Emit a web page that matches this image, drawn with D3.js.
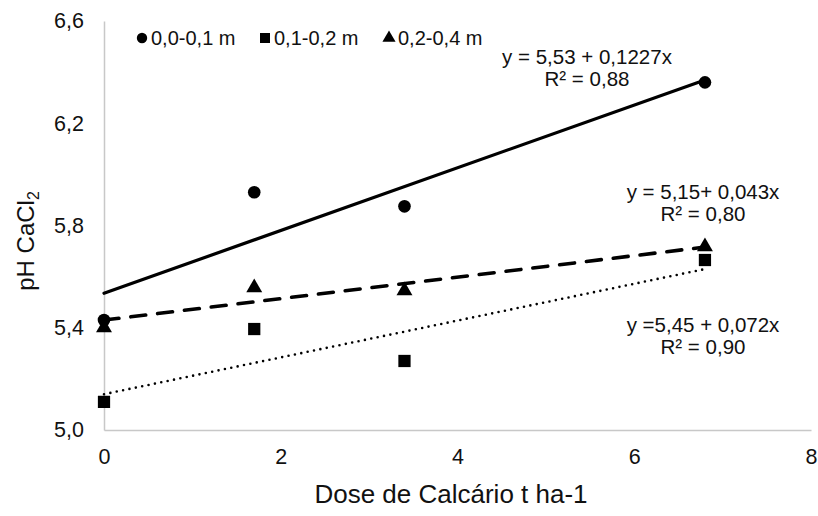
<!DOCTYPE html>
<html>
<head>
<meta charset="utf-8">
<script src="https://cdn.jsdelivr.net/npm/d3@7"></script>
<style>
  html, body { margin: 0; padding: 0; background: #fff; }
  svg { display: block; font-family: "Liberation Sans", Arial, sans-serif; }
</style>
</head>
<body>
<svg id="chart" width="818" height="516"></svg>
<script>
// Lime doses (t ha-1)
const doses = [0, 1.7, 3.4, 6.8];

// pH CaCl2 by soil layer
const seriesNames = ["0,0-0,1 m", "0,1-0,2 m", "0,2-0,4 m"];
const ph0010 = [5.43, 5.93, 5.875, 6.36];
const ph1020 = [5.11, 5.395, 5.27, 5.665];
const ph2040 = [5.40, 5.557, 5.545, 5.717];

// Linear trend lines (intercept, slope) per layer
const trendIntercepts = [5.535, 5.14, 5.43];
const trendSlopes = [0.1227, 0.072, 0.042];

// Equation labels
const eqLines = [
  ["y = 5,53 + 0,1227x", "R² = 0,88"],
  ["y =5,45 + 0,072x", "R² = 0,90"],
  ["y = 5,15+ 0,043x", "R² = 0,80"]
];

const xTicks = [0, 2, 4, 6, 8];
const yTicks = [5.0, 5.4, 5.8, 6.2, 6.6];

const svg = d3.select("#chart");
const x = d3.scaleLinear().domain([0, 8]).range([104, 811]);
const y = d3.scaleLinear().domain([5.0, 6.6]).range([430, 21]);
const fmt = d => d3.format(".1f")(d).replace(".", ",");

// axes: only light grey baseline lines, no tick marks
const gx = svg.append("g").attr("transform", `translate(0,${y(5.0)})`)
  .call(d3.axisBottom(x).tickValues(xTicks).tickSize(0).tickPadding(19).tickFormat(d3.format("d")));
const gy = svg.append("g").attr("transform", `translate(${x(0)},0)`)
  .call(d3.axisLeft(y).tickValues(yTicks).tickSize(0).tickPadding(20).tickFormat(fmt));
[gx, gy].forEach(g => {
  g.select(".domain").attr("stroke", "#c8c8c8").attr("stroke-width", 1.5);
  g.selectAll("text").attr("font-size", 21.5).attr("fill", "#111").attr("font-family", "Liberation Sans, Arial, sans-serif");
});

// axis titles
svg.append("text")
  .attr("x", 451).attr("y", 503)
  .attr("text-anchor", "middle").attr("font-size", 26).attr("fill", "#111")
  .text("Dose de Calcário t ha-1");

const yt = svg.append("text")
  .attr("transform", "translate(34,241) rotate(-90)")
  .attr("text-anchor", "middle").attr("font-size", 24).attr("fill", "#111");
yt.append("tspan").text("pH CaCl");
yt.append("tspan").attr("font-size", 16).attr("dy", 5).text("2");

// trend lines
const dashStyles = [null, "0,6.5", "15,12"];
const widths = [3.2, 2.6, 3.6];
trendIntercepts.forEach((b, i) => {
  const m = trendSlopes[i];
  svg.append("line")
    .attr("x1", x(doses[0])).attr("y1", y(b))
    .attr("x2", x(doses[doses.length - 1])).attr("y2", y(b + m * doses[doses.length - 1]))
    .attr("stroke", "#000").attr("stroke-width", widths[i])
    .attr("stroke-linecap", "round")
    .attr("stroke-dasharray", dashStyles[i]);
});

// markers
const symCircle = d3.symbol().type(d3.symbolCircle).size(125);
const symSquare = d3.symbol().type(d3.symbolSquare).size(150);
const symTri = d3.symbol().type(d3.symbolTriangle).size(110);
const series = [
  { vals: ph0010, sym: symCircle },
  { vals: ph1020, sym: symSquare },
  { vals: ph2040, sym: symTri }
];
series.forEach(s => {
  svg.append("g").selectAll("path").data(s.vals).join("path")
    .attr("transform", (d, j) => `translate(${x(doses[j])},${y(d)})`)
    .attr("d", s.sym).attr("fill", "#000");
});

// legend
const legX = [142, 265, 389];
const legSyms = [
  d3.symbol().type(d3.symbolCircle).size(85),
  d3.symbol().type(d3.symbolSquare).size(100),
  d3.symbol().type(d3.symbolTriangle).size(75)
];
seriesNames.forEach((n, i) => {
  svg.append("path").attr("transform", `translate(${legX[i]},38)`).attr("d", legSyms[i]).attr("fill", "#000");
  svg.append("text").attr("x", legX[i] + 9).attr("y", 38).attr("dy", "0.35em")
    .attr("font-size", 20).attr("fill", "#111").text(n);
});

// equation annotations
const eqPos = [[587, 57], [703, 325], [703, 192]];
eqLines.forEach((lines, i) => {
  lines.forEach((t, k) => {
    svg.append("text")
      .attr("x", eqPos[i][0]).attr("y", eqPos[i][1] + k * 22).attr("dy", "0.35em")
      .attr("text-anchor", "middle").attr("font-size", 20.5).attr("fill", "#111")
      .text(t);
  });
});
</script>
</body>
</html>
